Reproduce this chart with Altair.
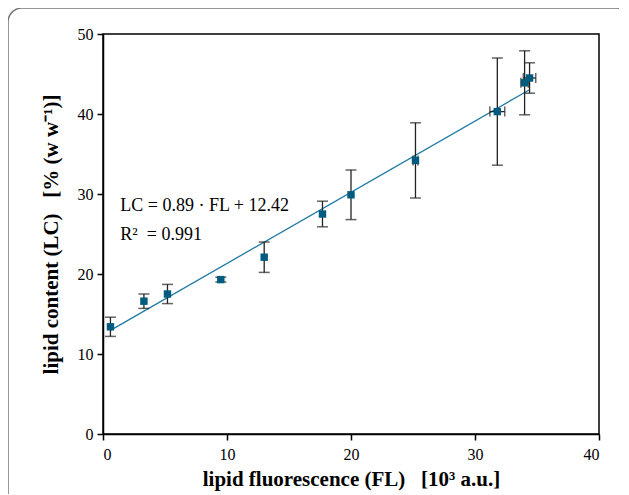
import altair as alt
import pandas as pd

fl = [0.6, 3.3, 5.2, 9.5, 13.0, 17.7, 20.0, 25.2, 31.8, 34.0, 34.4]
lc = [13.4, 16.6, 17.5, 19.3, 22.1, 27.5, 29.9, 34.2, 40.3, 43.9, 44.5]
lc_err = [1.2, 0.9, 1.2, 0.3, 1.9, 1.6, 3.1, 4.7, 6.7, 4.0, 1.9]
fl_err = [0.0, 0.0, 0.0, 0.0, 0.0, 0.0, 0.0, 0.2, 0.6, 0.3, 0.5]

slope = 0.89
intercept = 12.42
fit_x = [0.6, 34.4]
annot_text = ["LC = 0.89 · FL + 12.42", "R²\u00a0 = 0.991"]
annot_x = [1.4, 1.4]
annot_y = [28.5, 24.9]

df = pd.DataFrame({"fl": fl, "lc": lc, "lce": lc_err, "fle": fl_err})
df["lo"] = df["lc"] - df["lce"]
df["hi"] = df["lc"] + df["lce"]
df["xlo"] = df["fl"] - df["fle"]
df["xhi"] = df["fl"] + df["fle"]
dfx = df[df["fle"] > 0]

fit_df = pd.DataFrame({"fl": fit_x, "lc": [slope * v + intercept for v in fit_x]})
ann_df = pd.DataFrame({"t": annot_text, "x": annot_x, "y": annot_y})

FONT = "Liberation Serif"
xs = alt.Scale(domain=[0, 40], nice=False)
ys = alt.Scale(domain=[0, 50], nice=False)
SP = "\u00a0\u00a0\u00a0"

x_axis = alt.Axis(
    title=f"lipid fluorescence (FL){SP}[10³ a.u.]", values=[0, 10, 20, 30, 40],
    grid=False, domainColor="black", tickColor="black", tickSize=6, domainWidth=1.5, tickWidth=1.5,
    labelFont=FONT, labelFontSize=16, labelColor="black", labelPadding=6,
    titleFont=FONT, titleFontSize=21, titleFontWeight="bold", titleColor="black", titlePadding=6)
y_axis = alt.Axis(
    title=f"lipid content (LC){SP}[% (w w⁻¹)]", values=[0, 10, 20, 30, 40, 50],
    grid=False, domainColor="black", tickColor="black", tickSize=6, domainWidth=1.5, tickWidth=1.5,
    labelFont=FONT, labelFontSize=16, labelColor="black", labelPadding=4,
    titleFont=FONT, titleFontSize=21, titleFontWeight="bold", titleColor="black", titlePadding=16)

def X(f):
    return alt.X(f, scale=xs, axis=x_axis)

def Y(f):
    return alt.Y(f, scale=ys, axis=y_axis)

frame = alt.Chart(pd.DataFrame({"a": [0]})).mark_rect(
    fill=None, stroke="#777777", strokeWidth=1.5, cornerRadius=14
).encode(x=alt.value(-95), x2=alt.value(528), y=alt.value(-26), y2=alt.value(490))

line = alt.Chart(fit_df).mark_line(color="#1f7aa3", strokeWidth=1.3).encode(x=X("fl:Q"), y=Y("lc:Q"))

vrule = alt.Chart(df).mark_rule(color="#222222", strokeWidth=1.3).encode(
    x=X("fl:Q"), y=Y("lo:Q"), y2="hi:Q")
cap_lo = alt.Chart(df).mark_tick(color="#222222", orient="horizontal", size=11, thickness=1.5).encode(
    x=X("fl:Q"), y=Y("lo:Q"))
cap_hi = alt.Chart(df).mark_tick(color="#222222", orient="horizontal", size=11, thickness=1.5).encode(
    x=X("fl:Q"), y=Y("hi:Q"))

hrule = alt.Chart(dfx).mark_rule(color="#222222", strokeWidth=1.3).encode(
    x=X("xlo:Q"), x2="xhi:Q", y=Y("lc:Q"))
hcap_lo = alt.Chart(dfx).mark_tick(color="#222222", orient="vertical", size=10, thickness=1.5).encode(
    x=X("xlo:Q"), y=Y("lc:Q"))
hcap_hi = alt.Chart(dfx).mark_tick(color="#222222", orient="vertical", size=10, thickness=1.5).encode(
    x=X("xhi:Q"), y=Y("lc:Q"))

pts = alt.Chart(df).mark_square(color="#005b7f", opacity=1, size=55).encode(
    x=X("fl:Q"), y=Y("lc:Q"))

ann = alt.Chart(ann_df).mark_text(font=FONT, fontSize=18, align="left", baseline="middle", color="black").encode(
    x=X("x:Q"), y=Y("y:Q"), text="t:N")

chart = alt.layer(frame, line, vrule, cap_lo, cap_hi, hrule, hcap_lo, hcap_hi, pts, ann).properties(
    width=496, height=400,
    autosize=alt.AutoSizeParams(type="none"),
    padding={"left": 95, "top": 26, "right": 20, "bottom": 60},
    background="white"
).configure(font=FONT).configure_view(stroke="black", strokeWidth=1.5).configure_axis(
    labelFont=FONT, titleFont=FONT
)

chart.save("out.html", embed_options={"renderer": "svg", "actions": False})
